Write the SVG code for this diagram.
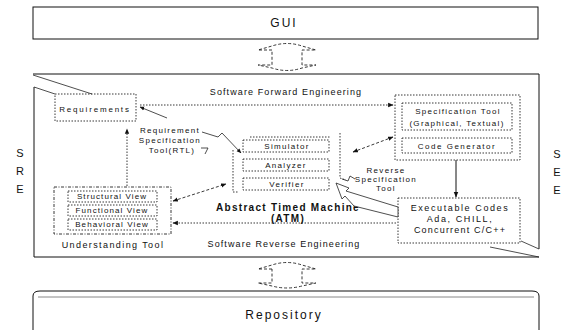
<svg xmlns="http://www.w3.org/2000/svg" width="574" height="330" viewBox="0 0 574 330">
<defs>
<style>
text{font-family:"Liberation Sans",Arial,sans-serif;fill:#111;text-anchor:middle;dominant-baseline:central}
.s{font-size:8px;letter-spacing:1.3px}
.m{font-size:9px;letter-spacing:1.1px}
.b{font-size:10px;font-weight:bold;letter-spacing:1.3px}
.big{font-size:12px;letter-spacing:2px}
.side{font-size:11px}
.solid{fill:none;stroke:#111;stroke-width:1}
.dot{fill:none;stroke:#222;stroke-width:0.9;stroke-dasharray:1.5 1.5}
.dash{fill:none;stroke:#222;stroke-width:0.9;stroke-dasharray:3 2}
.thin{fill:none;stroke:#222;stroke-width:0.8}
.hollow{fill:#fff;stroke:#222;stroke-width:0.8}
</style>
<marker id="ah" viewBox="0 0 10 10" refX="9" refY="5" markerWidth="6" markerHeight="6" orient="auto-start-reverse"><path d="M0,1 L10,5 L0,9 z" fill="#111"/></marker>
</defs>

<g id="gui">
<rect class="solid" x="33" y="7" width="505" height="32"/>
<text class="big" x="284" y="23">GUI</text>
</g>

<g id="sre"><text class="side" x="20" y="153">S</text><text class="side" x="20" y="171">R</text><text class="side" x="20" y="189">E</text></g>
<g id="see"><text class="side" x="557" y="154">S</text><text class="side" x="557" y="172">E</text><text class="side" x="557" y="190">E</text></g>

<g id="main">
<path class="solid" d="M33,74 H539 V249 M539,257 H34 V87"/>
<path class="thin" d="M33,75 L92,94 M34,87 L55,94 M490,247 L539,257 M521,241 L539,249"/>
<text class="m" x="286" y="92">Software Forward Engineering</text>
<text class="m" x="284" y="244">Software Reverse Engineering</text>
</g>

<g id="requirements">
<rect class="dot" x="55" y="94" width="81" height="27"/>
<text class="s" x="95" y="109" style="letter-spacing:1.8px">Requirements</text>
</g>

<g id="rst">
<text class="s" x="170" y="130">Requirement</text>
<text class="s" x="170" y="140">Specification</text>
<text class="s" x="172" y="150">Tool(RTL)</text>
<path class="thin" d="M201,148 L208,148 L205,154"/>
</g>

<g id="atm">
<path class="dot" d="M233,150 V192 H238 M340,133 V178 L346,180"/>
<path class="dot" d="M250,137 H330"/>
<rect class="dot" x="243" y="140" width="86" height="12"/>
<text class="s" x="287" y="146">Simulator</text>
<rect class="dot" x="243" y="159" width="86" height="12"/>
<text class="s" x="286" y="165">Analyzer</text>
<rect class="dot" x="243" y="178" width="86" height="12"/>
<text class="s" x="287" y="184">Verifier</text>
<text class="b" x="288" y="207">Abstract Timed Machine</text>
<text class="b" x="288" y="218">(ATM)</text>
</g>

<g id="spec">
<rect class="dot" x="395" y="95" width="125" height="65"/>
<rect class="dot" x="402" y="103" width="110" height="27"/>
<text class="s" x="458" y="111">Specification Tool</text>
<text class="s" x="457" y="123">(Graphical, Textual)</text>
<rect class="dot" x="402" y="138" width="110" height="15"/>
<text class="s" x="457" y="146" style="letter-spacing:1.5px">Code Generator</text>
</g>

<g id="exec">
<rect class="dot" x="398" y="198" width="122" height="45"/>
<text class="m" x="460" y="208" style="letter-spacing:1.6px">Executable Codes</text>
<text class="m" x="460" y="219" style="letter-spacing:1.6px">Ada, CHILL,</text>
<text class="m" x="460" y="230" style="letter-spacing:1.2px">Concurrent C/C++</text>
</g>

<g id="rev">
<text class="s" x="386" y="170">Reverse</text>
<text class="s" x="386" y="179">Specification</text>
<text class="s" x="386" y="188">Tool</text>
</g>

<g id="understanding">
<rect class="dash" x="54" y="187" width="117" height="47" style="stroke-dasharray:3 1.5 1 1.5"/>
<rect class="dot" x="68" y="191" width="89" height="11"/>
<text class="s" x="112" y="196.5" style="letter-spacing:1.1px">Structural View</text>
<rect class="dot" x="68" y="205" width="89" height="11"/>
<text class="s" x="112" y="210.5" style="letter-spacing:1.1px">Functional View</text>
<rect class="dot" x="68" y="219" width="89" height="11"/>
<text class="s" x="112" y="224.5" style="letter-spacing:1.1px">Behavioral View</text>
<text class="m" x="113" y="245" style="letter-spacing:1.4px">Understanding Tool</text>
</g>

<g id="repository">
<path class="solid" d="M33,330 V296 Q33,291 40,291 H532 Q539,291 539,296 V330"/>
<path d="M38,297 H534" fill="none" stroke="#888" stroke-width="1"/>
<text class="big" x="284" y="315">Repository</text>
</g>

<g id="connectors">
<path class="dash" d="M272,50 L258,50 L272,46 Q287,41 302,46 L316,50 L302,50 V65 L316,65 L302,68 Q287,73 272,68 L258,65 L272,65 Z"/>
<path class="dash" d="M272,269 L258,269 L272,265 Q287,260 302,265 L316,269 L302,269 V283 L316,283 L302,286 Q287,290 272,286 L258,283 L272,283 Z"/>
<path class="dot" d="M140,105 H393" marker-end="url(#ah)"/>
<path class="dot" d="M127,186 V129" marker-end="url(#ah)"/>
<path class="dash" d="M173,201 L226,184" marker-start="url(#ah)" marker-end="url(#ah)"/>
<path class="dot" d="M396,223 H173" marker-end="url(#ah)"/>
<path class="dash" d="M393,137 L353,152" marker-start="url(#ah)" marker-end="url(#ah)"/>
<path class="solid" d="M456,160 V197" marker-end="url(#ah)"/>
<path class="thin" d="M167,118 L140,107" marker-end="url(#ah)"/>
<path class="thin" d="M202,132 L218,137 L222,133 L241,153" marker-end="url(#ah)"/>
<path class="thin" d="M355,179 L350,176 L348,181 L342,179"/>
<path class="hollow" d="M336,183 L349,188 L346,191 L398,207 L398,217 L354,206 L345,196 L342,199 Z"/>
</g>
</svg>
